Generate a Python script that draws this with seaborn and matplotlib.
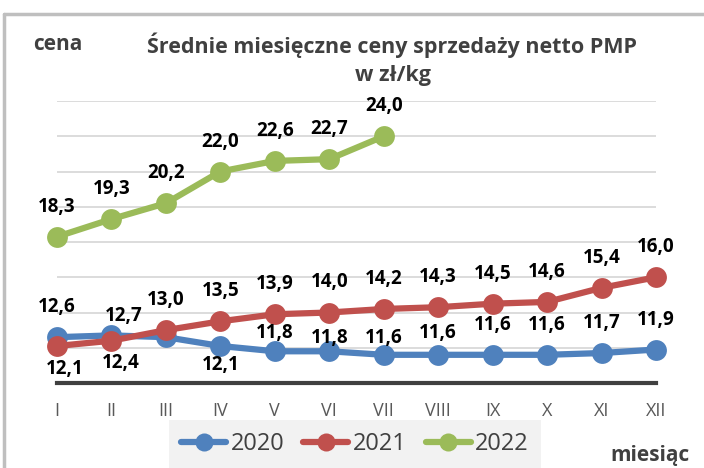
import matplotlib
matplotlib.use("Agg")
import matplotlib.pyplot as plt
import numpy as np
import pandas as pd
import seaborn as sns
from matplotlib.lines import Line2D

months = ["I", "II", "III", "IV", "V", "VI", "VII", "VIII", "IX", "X", "XI", "XII"]
prices_2020 = [12.6, 12.7, 12.6, 12.1, 11.8, 11.8, 11.6, 11.6, 11.6, 11.6, 11.7, 11.9]
prices_2021 = [12.1, 12.4, 13.0, 13.5, 13.9, 14.0, 14.2, 14.3, 14.5, 14.6, 15.4, 16.0]
prices_2022 = [18.3, 19.3, 20.2, 22.0, 22.6, 22.7, 24.0]
years = ["2020", "2021", "2022"]

colors = {"2020": "#4f81bd", "2021": "#c0504d", "2022": "#9bbb59"}

# label offsets in pixels (dx, dy); default is above the point
label_offsets = {
    ("2020", 1): (12, 19),
    ("2020", 3): (0, -19),
    ("2020", 4): (0, 18),
    ("2020", 5): (0, 13),
    ("2020", 6): (0, 17),
    ("2020", 7): (0, 22),
    ("2021", 0): (8, -23),
    ("2021", 1): (9, -22),
}
hidden_labels = {("2020", 2)}

series = {"2020": prices_2020, "2021": prices_2021, "2022": prices_2022}
rows = []
for yr, vals in series.items():
    for i, v in enumerate(vals):
        rows.append({"month": i, "price": v, "year": yr})
df = pd.DataFrame(rows)

sns.set_theme(style="white")
plt.rcParams["font.family"] = ["Open Sans", "DejaVu Sans"]

fig = plt.figure(figsize=(7.04, 4.68), dpi=100)
ax = fig.add_axes([57 / 704, 1 - 383 / 468, (656 - 57) / 704, (383 - 101) / 468])

sns.lineplot(data=df, x="month", y="price", hue="year", palette=colors,
             marker="o", markersize=15, markeredgewidth=0, linewidth=4.5,
             ax=ax, legend=False, clip_on=False, zorder=3)

ax.set_xlim(0, 11)
ax.set_ylim(10, 26)
ax.set_yticks(np.arange(12, 27, 2))
ax.yaxis.grid(True, color="#d9d9d9", linewidth=1.3)
ax.set_axisbelow(True)
ax.tick_params(axis="y", left=False, labelleft=False)
ax.set_xticks(range(12))
ax.set_xticklabels(months, color="#595959", fontsize=13)
ax.tick_params(axis="x", bottom=False, pad=8)
for side in ["left", "right", "top"]:
    ax.spines[side].set_visible(False)
ax.spines["bottom"].set_color("#404040")
ax.spines["bottom"].set_linewidth(3)
ax.set_xlabel("")
ax.set_ylabel("")

for yr, vals in series.items():
    for i, v in enumerate(vals):
        if (yr, i) in hidden_labels:
            continue
        dx, dy = label_offsets.get((yr, i), (0, 30))
        ax.annotate(f"{v:.1f}".replace(".", ","), (i, v), xytext=(dx, dy),
                    textcoords="offset pixels", ha="center", va="center",
                    fontsize=13.5, fontweight="bold", color="black",
                    annotation_clip=False, zorder=5)

fig.text(392 / 704, 1 - 45 / 468, "Średnie miesięczne ceny sprzedaży netto PMP",
         ha="center", va="center", fontsize=15.5, fontweight="bold", color="#404040")
fig.text(393 / 704, 1 - 75 / 468, "w zł/kg", ha="center", va="center",
         fontsize=15.5, fontweight="bold", color="#404040")
fig.text(33 / 704, 1 - 45 / 468, "cena", ha="left", va="center",
         fontsize=15, fontweight="bold", color="#404040")
fig.text(690 / 704, 1 - 455 / 468, "miesiąc", ha="right", va="center",
         fontsize=15, fontweight="bold", color="#404040")

handles = [Line2D([0], [0], color=colors[y], linewidth=4.5, marker="o",
                  markersize=13, markeredgewidth=0) for y in years]
leg = fig.legend(handles, years, loc="center", bbox_to_anchor=(355 / 704, 1 - 444 / 468),
                 ncol=3, frameon=True, fancybox=False, facecolor="#f2f2f2",
                 edgecolor="none", fontsize=17, handlelength=1.9, handletextpad=0.2,
                 columnspacing=0.8, borderpad=0.5, borderaxespad=0, framealpha=1)
for t in leg.get_texts():
    t.set_color("#404040")

# chart frame (top and left edges visible in the crop)
fig.add_artist(Line2D([4 / 704, 4 / 704], [0, 1 - 14 / 468], color="#bfbfbf", linewidth=2.5))
fig.add_artist(Line2D([4 / 704, 1], [1 - 14 / 468, 1 - 14 / 468], color="#bfbfbf", linewidth=2.5))

fig.savefig("out.png", dpi=100)
